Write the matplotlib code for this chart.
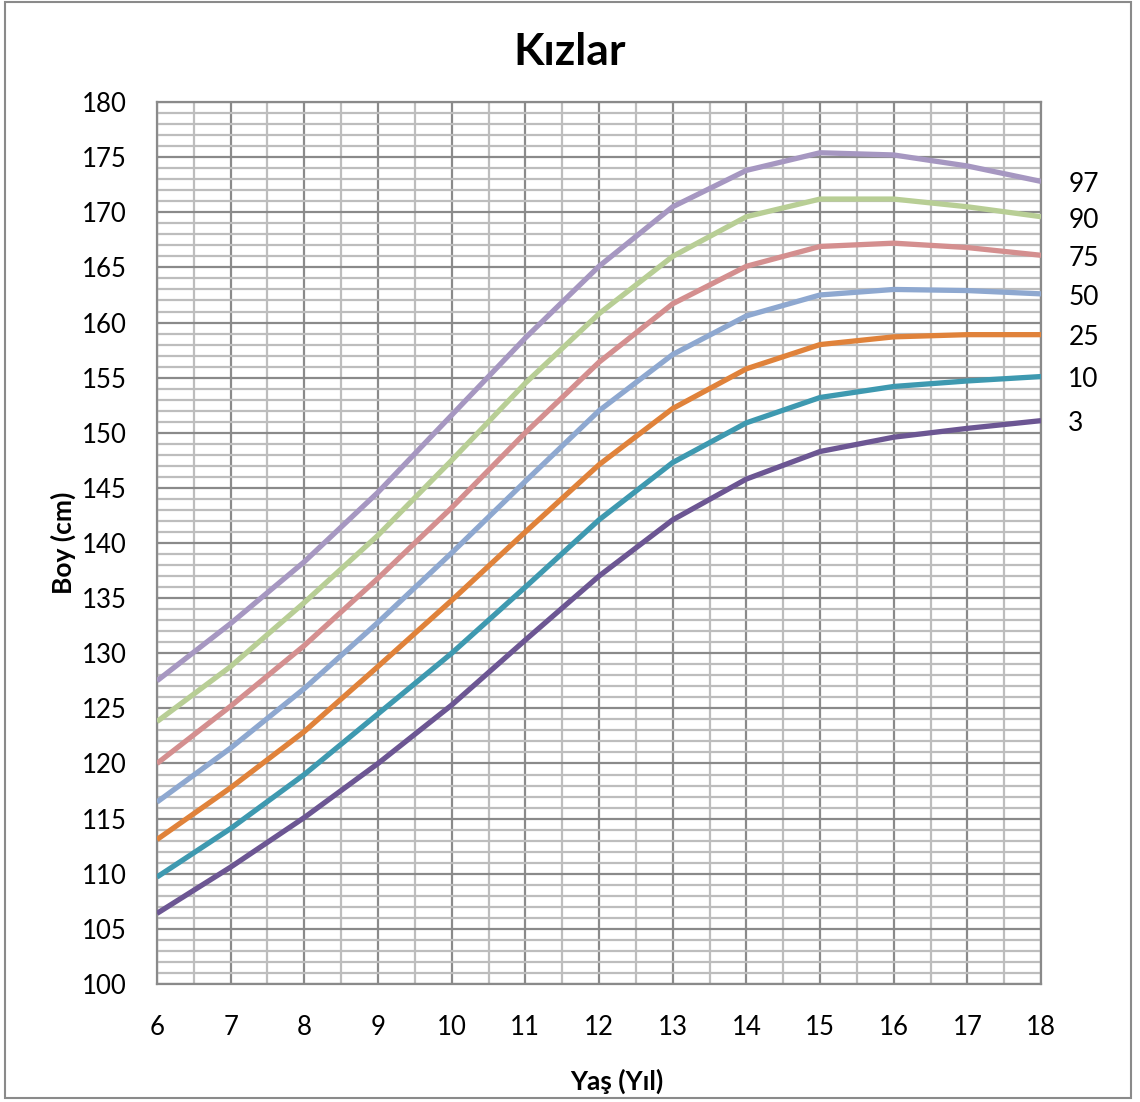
import matplotlib.pyplot as plt
from matplotlib.patches import Rectangle
from matplotlib.ticker import MultipleLocator

plt.rcParams["font.family"] = ["Lato", "DejaVu Sans"]

ages = [6, 7, 8, 9, 10, 11, 12, 13, 14, 15, 16, 17, 18]
p97 = [127.5, 132.7, 138.3, 144.6, 151.6, 158.6, 165.1, 170.5, 173.8, 175.4, 175.2, 174.2, 172.8]
p90 = [123.8, 128.8, 134.6, 140.7, 147.5, 154.5, 160.8, 166.0, 169.6, 171.2, 171.2, 170.5, 169.6]
p75 = [120.0, 125.2, 130.7, 136.8, 143.2, 150.0, 156.4, 161.7, 165.1, 166.9, 167.2, 166.8, 166.1]
p50 = [116.5, 121.4, 126.8, 132.8, 139.1, 145.6, 152.0, 157.1, 160.6, 162.5, 163.0, 162.9, 162.6]
p25 = [113.1, 117.8, 122.9, 128.8, 134.8, 141.0, 147.1, 152.2, 155.8, 158.0, 158.7, 158.9, 158.9]
p10 = [109.7, 114.1, 119.0, 124.5, 130.0, 136.0, 142.1, 147.3, 150.9, 153.2, 154.2, 154.7, 155.1]
p3 = [106.4, 110.6, 115.1, 120.0, 125.3, 131.2, 137.0, 142.1, 145.8, 148.3, 149.6, 150.4, 151.1]

series = [p97, p90, p75, p50, p25, p10, p3]
labels = ["97", "90", "75", "50", "25", "10", "3"]
colors = ["#A697C1", "#B8CE95", "#D48F8F", "#8EA8D0", "#E0823A", "#3E99B0", "#6C5693"]

fig = plt.figure(figsize=(11.4, 11.02), dpi=100)
ax = fig.add_axes([0.1377, 0.1071, 0.7755, 0.8003])

for vals, col, lab in zip(series, colors, labels):
    ax.plot(ages, vals, color=col, lw=3.8, solid_capstyle="butt", zorder=3)
    ax.text(18.37, vals[-1] - 0.3, lab, fontsize=19, va="center", ha="left")

ax.set_xlim(6, 18)
ax.set_ylim(100, 180)
ax.xaxis.set_major_locator(MultipleLocator(1))
ax.xaxis.set_minor_locator(MultipleLocator(0.5))
ax.yaxis.set_major_locator(MultipleLocator(5))
ax.yaxis.set_minor_locator(MultipleLocator(1))
ax.grid(which="minor", color="#BDBDBD", lw=1.6, zorder=1)
ax.grid(which="major", color="#8A8A8A", lw=1.6, zorder=2)
ax.set_axisbelow(True)
ax.tick_params(which="both", length=0, labelsize=18.5, pad=22)
for sp in ax.spines.values():
    sp.set_color("#8A8A8A")
    sp.set_linewidth(1.6)

ax.set_ylabel("Boy (cm)", fontsize=19, fontweight="bold", labelpad=4)
fig.text(0.541, 0.019, "Yaş (Yıl)", fontsize=19, fontweight="bold", ha="center", va="center")
fig.text(0.5, 0.953, "Kızlar", fontsize=32, fontweight="bold", ha="center", va="center")

fig.patches.append(Rectangle((0.004, 0.004), 0.988, 0.994, transform=fig.transFigure,
                             fill=False, edgecolor="#8A8A8A", lw=1.5))

fig.savefig("out.png", dpi=100)
